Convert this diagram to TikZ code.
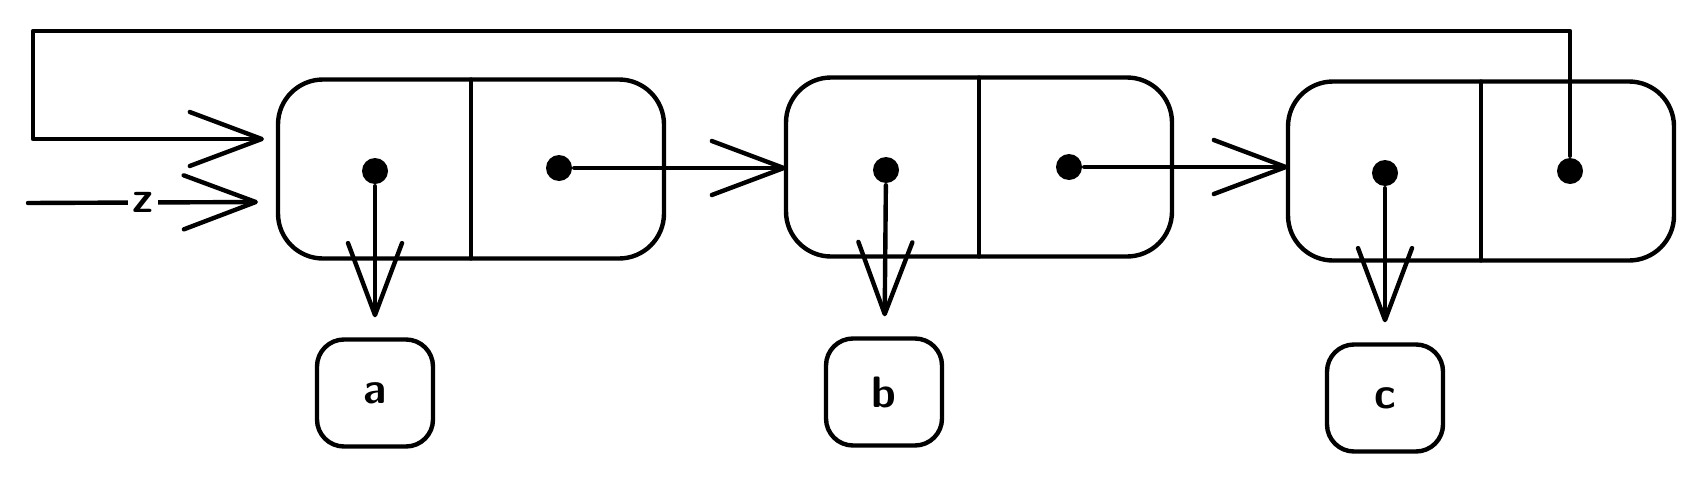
\documentclass[tikz,border=0pt]{standalone}
\usetikzlibrary{arrows.meta}
\begin{document}
\begin{tikzpicture}[x=1pt,y=-1pt,line width=4.4pt,line cap=round,line join=round,
  link/.style={-{Straight Barb[round,length=72pt,width=54pt]}},
  cellbox/.style={draw,rounded corners=45pt,outer sep=0pt,minimum width=386pt,minimum height=179pt},
  valbox/.style={draw,rounded corners=27pt,minimum width=116pt,minimum height=107pt,font=\sffamily\bfseries\fontsize{44}{44}\selectfont},
  ptrdot/.style={circle,fill,inner sep=0pt,minimum size=26pt}]
\useasboundingbox (0,0) rectangle (1704,482);
\node[cellbox] (c1) at (471,169) {};
\node[cellbox] (c2) at (979,167) {};
\node[cellbox] (c3) at (1481,171) {};
\draw (c1.north) -- (c1.south);
\draw (c2.north) -- (c2.south);
\draw (c3.north) -- (c3.south);
\node[ptrdot] (h1) at (375,171) {};
\node[ptrdot] (t1) at (559,168) {};
\node[ptrdot] (h2) at (886,170) {};
\node[ptrdot] (t2) at (1069,167) {};
\node[ptrdot] (h3) at (1385,173) {};
\node[ptrdot] (t3) at (1570,171) {};
\node[valbox] (va) at (375,393) {a};
\node[valbox] (vb) at (884,392) {b};
\node[valbox] (vc) at (1385,398) {c};
\draw[link,shorten >=20pt] (h1) -- (va);
\draw[link,shorten >=20pt] (h2) -- (vb);
\draw[link,shorten >=20pt] (h3) -- (vc);
\draw[link] (t1) -- (t1 -| c2.west);
\draw[link] (t2) -- (t2 -| c3.west);
\coordinate (loopL) at (33,31);
\coordinate (in1) at (264,139);
\draw[link] (t3) |- (loopL) |- (in1);
\coordinate (zs) at (28,203);
\coordinate (zin) at (258,202);
\draw[link] (zs) -- node[fill=white,inner sep=5pt,font=\sffamily\bfseries\fontsize{44}{44}\selectfont] (zlab) {z} (zin);
\end{tikzpicture}
\end{document}
